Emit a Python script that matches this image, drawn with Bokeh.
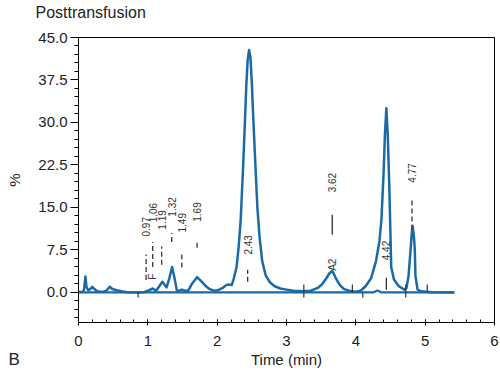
import numpy as np
from bokeh.plotting import figure
from bokeh.models import Title, SingleIntervalTicker, PrintfTickFormatter, ColumnDataSource
from bokeh.core.properties import value
from bokeh.embed import file_html
from bokeh.resources import INLINE

# Chromatogram trace (time in min, signal in %)
trace_t = [0.00, 0.06, 0.08, 0.10, 0.115, 0.14, 0.17, 0.20, 0.23, 0.27, 0.35, 0.40, 0.45, 0.49,
           0.55, 0.62, 0.70, 0.85, 0.95, 1.00, 1.07, 1.12, 1.16, 1.21, 1.27, 1.31, 1.35, 1.38,
           1.42, 1.45, 1.49, 1.54, 1.58, 1.64, 1.71, 1.77, 1.83, 1.88, 1.93, 1.98, 2.03, 2.08,
           2.13, 2.17, 2.21, 2.24, 2.28, 2.31, 2.34, 2.37, 2.40, 2.42, 2.44, 2.46, 2.48, 2.50,
           2.52, 2.55, 2.58, 2.61, 2.65, 2.70, 2.76, 2.83, 2.91, 3.00, 3.10, 3.24, 3.35, 3.45,
           3.51, 3.58, 3.62, 3.66, 3.69, 3.72, 3.77, 3.83, 3.90, 4.00, 4.07, 4.14, 4.22, 4.29,
           4.34, 4.37, 4.40, 4.42, 4.44, 4.46, 4.48, 4.50, 4.51, 4.55, 4.62, 4.70, 4.73, 4.76,
           4.79, 4.81, 4.82, 4.84, 4.85, 4.86, 4.89, 4.94, 5.10, 5.42]
trace_y = [0.1, 0.1, 0.5, 2.8, 1.0, 0.4, 0.6, 1.0, 0.6, 0.2, 0.1, 0.3, 1.0, 0.6,
           0.4, 0.2, 0.05, 0.0, 0.05, 0.3, 0.7, 0.3, 1.0, 1.9, 0.9, 2.5, 4.5, 2.8,
           0.3, 0.3, 0.5, 0.3, 0.3, 1.6, 2.7, 2.0, 1.2, 0.7, 0.4, 0.3, 0.5, 0.8,
           1.3, 1.4, 1.3, 2.5, 4.5, 8.0, 13.0, 21.0, 30.0, 36.5, 41.0, 42.8, 41.5, 37.0,
           31.0, 22.8, 15.0, 10.0, 5.5, 3.0, 1.8, 1.1, 0.7, 0.5, 0.3, 0.2, 0.3, 0.8,
           1.4, 2.6, 3.4, 3.8, 3.1, 2.3, 1.3, 0.6, 0.3, 0.15, 0.3, 1.1, 2.5, 5.5,
           9.0, 13.0, 21.0, 28.0, 32.5, 28.0, 20.0, 10.0, 4.5, 2.3, 1.1, 0.5, 0.8, 2.9,
           7.6, 11.0, 11.7, 9.5, 7.6, 2.9, 0.5, 0.2, 0.05, 0.0]

# Baseline trace
base_t = [0.00, 4.25, 4.31, 4.37, 5.42]
base_y = [0.0, 0.0, 0.35, 0.0, 0.0]

# Dashed peak markers
dash_labels = ["0.97", "1.06", "1.19", "1.32", "1.49", "1.69", "2.43", "4.77"]
dash_x = [0.975, 1.07, 1.20, 1.345, 1.49, 1.71, 2.44, 4.81]
dash_y0 = [2.2, 4.5, 4.9, 8.9, 4.4, 7.9, 1.9, 11.1]
dash_y1 = [6.7, 8.9, 8.1, 10.5, 7.2, 9.3, 4.0, 16.4]
dash_label_y = [11.6, 14.1, 12.8, 15.1, 12.3, 14.2, 8.4, 21.1]

# Solid peak markers
solid_labels = ["3.62", "4.42"]
solid_x = [3.66, 4.44]
solid_y0 = [10.2, 0.5]
solid_y1 = [13.7, 2.6]
solid_label_y = [19.4, 7.4]

# Peak name labels
name_labels = ["F", "A2"]
name_x = [1.07, 3.66]
name_y = [2.8, 4.9]

# Integration tick marks on the baseline
itick_x = [0.86, 3.25, 3.95, 4.10, 4.72, 5.03]
itick_y0 = [-0.9, -0.9, 0.0, -0.9, -0.9, 0.0]
itick_y1 = [0.0, 1.4, 1.4, 0.0, 1.4, 1.4]

FONT = "Liberation Sans"
BLUE = "#1b6aa5"
GREY = "#333333"

p = figure(width=500, height=376, x_range=(0, 6), y_range=(-5.3, 45),
           output_backend="svg", toolbar_location=None,
           min_border_left=78, min_border_right=6, min_border_top=37, min_border_bottom=54)
p.xgrid.visible = False
p.ygrid.visible = False
p.outline_line_color = "black"
p.outline_line_width = 1
p.background_fill_color = "white"
p.border_fill_color = "white"

# title (the trailing empty line lifts the text to the top of the border)
p.title.text = "Posttransfusion\n"
p.title.align = "left"
p.title.vertical_align = "top"
p.title.offset = -43
p.title.standoff = -4
p.title.text_font = FONT
p.title.text_font_size = "16px"
p.title.text_font_style = "normal"
p.title.text_color = "#222222"

# axes
p.yaxis.ticker = SingleIntervalTicker(interval=7.5, num_minor_ticks=5)
p.yaxis.formatter = PrintfTickFormatter(format="%.1f")
p.xaxis.ticker = SingleIntervalTicker(interval=1, num_minor_ticks=5)
for ax in (p.xaxis[0], p.yaxis[0]):
    ax.axis_line_color = "black"
    ax.major_tick_line_color = "black"
    ax.minor_tick_line_color = "black"
    ax.major_label_text_font = FONT
    ax.major_label_text_font_size = "15px"
    ax.major_label_text_color = "#222222"
    ax.axis_label_text_font = FONT
    ax.axis_label_text_font_size = "15px"
    ax.axis_label_text_font_style = "normal"
    ax.axis_label_text_color = "#222222"

p.yaxis.major_tick_out = 8
p.yaxis.major_tick_in = 0
p.yaxis.minor_tick_out = 4
p.yaxis.minor_tick_in = 0
p.yaxis.major_label_standoff = 3
p.yaxis.axis_label = "%"
p.yaxis.axis_label_standoff = 12

p.xaxis.major_tick_out = 3
p.xaxis.major_tick_in = 3
p.xaxis.minor_tick_out = 0
p.xaxis.minor_tick_in = 3
p.xaxis.major_label_standoff = 10
p.xaxis.axis_label = "Time (min)"
p.xaxis.axis_label_standoff = 2

# panel label "B" on the same row as the x axis label
b_title = Title(text="B", align="left", vertical_align="top", offset=-70, standoff=-42,
                text_font=FONT, text_font_size="17px", text_font_style="normal",
                text_color="#222222")
p.add_layout(b_title, "below")

# traces
p.line(base_t, base_y, line_color=BLUE, line_width=2.2)
p.line(trace_t, trace_y, line_color=BLUE, line_width=2.5, line_join="round")

# markers
p.segment(x0=dash_x, y0=dash_y0, x1=dash_x, y1=dash_y1, line_color=GREY,
          line_width=1.3, line_dash="5 3")
p.segment(x0=solid_x, y0=solid_y0, x1=solid_x, y1=solid_y1, line_color=GREY, line_width=1.3)
p.segment(x0=itick_x, y0=itick_y0, x1=itick_x, y1=itick_y1, line_color=GREY, line_width=1.2)

lab_src = ColumnDataSource(dict(x=dash_x + solid_x + name_x,
                                y=dash_label_y + solid_label_y + name_y,
                                t=dash_labels + solid_labels + name_labels))
p.text(x="x", y="y", text="t", source=lab_src, angle=np.pi / 2,
       text_align="center", text_baseline="middle",
       text_font=value(FONT), text_font_size="10px", text_color="#333333")

open("out.html", "w").write(file_html(p, INLINE))
